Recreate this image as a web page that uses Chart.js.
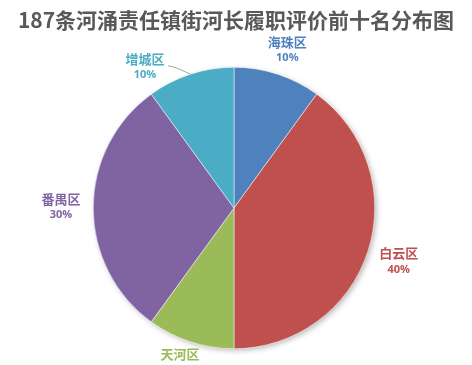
<!DOCTYPE html>
<html>
<head>
<meta charset="utf-8">
<script src="https://cdn.jsdelivr.net/npm/chart.js@4/dist/chart.umd.min.js"></script>
<style>
  body { margin: 0; background: #fff; }
  #wrap { width: 472px; height: 365px; }
</style>
</head>
<body>
<div id="wrap"><canvas id="pie" width="472" height="365"></canvas></div>
<script>
// chart data
const titleText = "187条河涌责任镇街河长履职评价前十名分布图";
const districts = ["海珠区", "白云区", "天河区", "番禺区", "增城区"];
const shares = [10, 40, 10, 30, 10];
const colors = ["#4F81BD", "#C0504D", "#9BBB59", "#8064A2", "#4BACC6"];

// label placement: distance from centre (x radius) plus a small nudge in px
const labelDist = [1.18, 1.23, 1.15, 1.23, 1.22];
const labelShift = [[2, 0], [0, 0], [-4, 0], [0, -1], [-36, 22]];

const cjk = '"Noto Sans CJK SC", "Microsoft YaHei", sans-serif';

const labelPlugin = {
    id: 'pieLabels',
    beforeDatasetsDraw(chart) {
        // soft shadow behind the pie
        const ctx = chart.ctx;
        const arc = chart.getDatasetMeta(0).data[0];
        ctx.save();
        ctx.shadowColor = 'rgba(0,0,0,0.35)';
        ctx.shadowBlur = 6;
        ctx.shadowOffsetX = 2;
        ctx.shadowOffsetY = 2;
        ctx.beginPath();
        ctx.arc(arc.x, arc.y, arc.outerRadius - 1, 0, Math.PI * 2);
        ctx.fillStyle = '#fff';
        ctx.fill();
        ctx.restore();
    },
    afterDraw(chart) {
        const ctx = chart.ctx;
        ctx.save();
        // title
        ctx.fillStyle = '#595959';
        ctx.font = 'bold 21px ' + cjk;
        ctx.textAlign = 'center';
        ctx.textBaseline = 'middle';
        ctx.fillText(titleText, 236, 20);

        const meta = chart.getDatasetMeta(0);
        meta.data.forEach((arc, i) => {
            const mid = (arc.startAngle + arc.endAngle) / 2;
            const r = arc.outerRadius * labelDist[i];
            const x = arc.x + Math.cos(mid) * r + labelShift[i][0];
            const y = arc.y + Math.sin(mid) * r + labelShift[i][1];
            if (i === 4) {
                // leader line from the label to the slice edge
                const ex = arc.x + Math.cos(mid) * arc.outerRadius;
                const ey = arc.y + Math.sin(mid) * arc.outerRadius;
                ctx.strokeStyle = '#A6A6A6';
                ctx.lineWidth = 1;
                ctx.beginPath();
                ctx.moveTo(x + 23, y - 1);
                ctx.lineTo(x + 31, y + 1);
                ctx.lineTo(ex, ey);
                ctx.stroke();
            }
            ctx.fillStyle = colors[i];
            ctx.font = 'bold 13px ' + cjk;
            ctx.fillText(districts[i], x, y - 8);
            ctx.font = 'bold 11px "Open Sans", sans-serif';
            ctx.fillText(shares[i] + '%', x, y + 8);
        });
        ctx.restore();
    }
};

new Chart(document.getElementById('pie'), {
    type: 'pie',
    data: {
        labels: districts,
        datasets: [{
            data: shares,
            backgroundColor: colors,
            borderColor: '#ffffff',
            borderWidth: 0.5
        }]
    },
    options: {
        responsive: false,
        animation: false,
        layout: { padding: { top: 67, bottom: 16, left: 0, right: 4 } },
        plugins: {
            legend: { display: false },
            title: { display: false },
            tooltip: { enabled: false }
        }
    },
    plugins: [labelPlugin]
});
</script>
</body>
</html>
